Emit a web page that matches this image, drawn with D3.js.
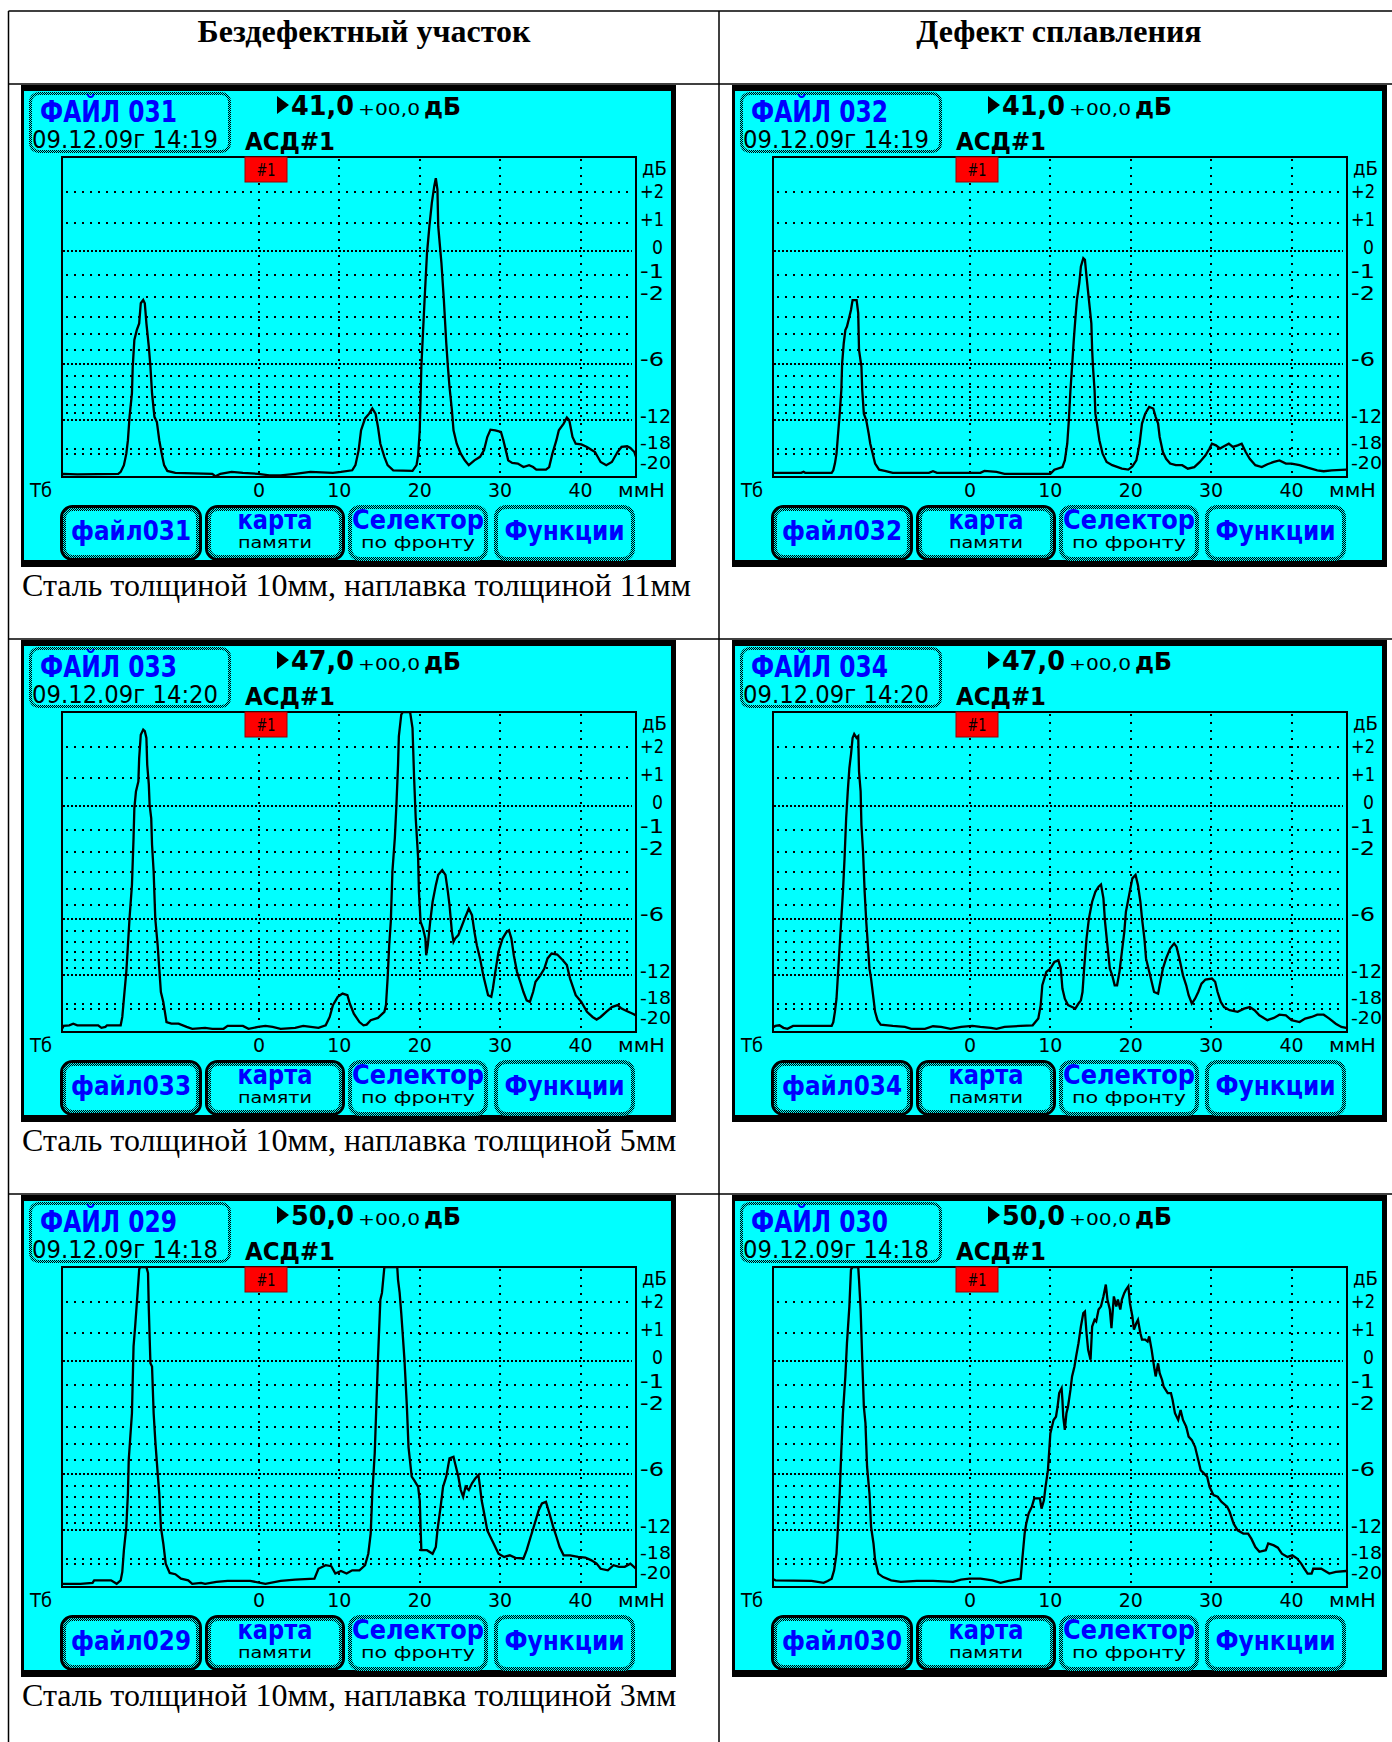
<!DOCTYPE html>
<html lang="ru">
<head>
<meta charset="utf-8">
<title>Бездефектный участок / Дефект сплавления</title>
<script src="https://cdn.jsdelivr.net/npm/d3@7"></script>
<style>
  body { margin: 0; background: #fff; }
  svg { display: block; }
  .dev { font-family: "DejaVu Sans", "Noto Sans", sans-serif; }
  .serif { font-family: "Liberation Serif", "Times New Roman", serif; }
</style>
</head>
<body>
<svg id="chart" width="1392" height="1742"></svg>
<script>
// ---- data ----
const headers = ["Бездефектный участок", "Дефект сплавления"];
const captions = [
  "Сталь толщиной 10мм, наплавка толщиной 11мм",
  "Сталь толщиной 10мм, наплавка толщиной 5мм",
  "Сталь толщиной 10мм, наплавка толщиной 3мм"
];
const fileNumbers = ["031", "032", "033", "034", "029", "030"];
const fileDates = ["09.12.09г 14:19", "09.12.09г 14:19", "09.12.09г 14:20",
                   "09.12.09г 14:20", "09.12.09г 14:18", "09.12.09г 14:18"];
const gains = ["41,0", "41,0", "47,0", "47,0", "50,0", "50,0"];
const gainOffset = "+00,0";
const channel = "АСД#1";
const gateLabel = "#1";
const mmTicks = [0, 10, 20, 30, 40];
const dbGrid = [2, 1, 0, -1, -2, -3, -4, -5, -6, -7, -8, -9, -10, -11, -12, -18, -20];
const dbDense = [0, -6, -12];
const dbLabelValues = [2, 1, 0, -1, -2, -6, -12, -18, -20];
const dbLabels = ["+2", "+1", "0", "-1", "-2", "-6", "-12", "-18", "-20"];
const zeroDbAmp = 70.7;           // % of screen height at 0 dB
const buttonMain = ["файл", "карта", "Селектор", "Функции"];
const buttonSub = ["", "памяти", "по фронту", ""];

// traces: [mm, amplitude % of screen height]
const trace031 = [[-24.6,0.5],[-24.3,1.0],[-22.6,0.8],[-17.5,1.0],[-17.2,1.6],[-16.8,3.7],[-16.5,7.3],[-16.3,11.5],[-16.1,18.8],[-15.8,26.1],[-15.7,34.5],[-15.5,42.8],[-15.2,45.9],[-14.9,48.0],[-14.7,54.3],[-14.4,55.3],[-14.2,54.3],[-14.0,48.0],[-13.7,40.7],[-13.5,34.5],[-13.3,26.1],[-13.0,18.8],[-12.7,17.2],[-12.4,11.5],[-12.1,7.3],[-11.8,3.7],[-11.4,1.9],[-10.4,1.3],[-5.8,1.0],[-5.4,0.2],[-4.8,1.0],[-3.4,1.6],[-2.0,1.3],[-0.1,1.0],[1.3,0.5],[2.7,0.5],[4.5,1.0],[6.4,1.6],[9.2,1.3],[10.2,1.6],[11.6,2.1],[12.0,3.7],[12.4,8.4],[12.7,14.6],[13.2,18.3],[13.7,19.8],[14.1,21.4],[14.5,19.8],[14.8,15.7],[15.1,10.4],[15.6,6.3],[16.0,3.7],[16.7,2.1],[19.1,1.9],[19.6,3.7],[19.8,6.8],[20.0,14.6],[20.2,34.5],[20.6,55.3],[20.9,69.9],[21.2,78.3],[21.5,85.6],[21.8,90.8],[22.0,93.4],[22.2,89.8],[22.3,78.3],[22.7,66.8],[23.0,55.3],[23.3,41.8],[23.5,34.5],[23.7,28.2],[24.0,20.9],[24.2,14.6],[24.6,10.4],[25.1,7.3],[25.6,5.2],[26.1,3.7],[26.8,5.2],[27.5,6.3],[28.0,8.4],[28.4,12.5],[28.8,14.8],[29.4,14.6],[30.1,14.1],[30.4,11.5],[30.7,8.4],[31.0,5.2],[31.5,4.4],[32.2,4.2],[32.9,3.1],[33.6,3.7],[34.1,3.1],[34.5,2.3],[35.7,2.3],[36.1,3.1],[36.5,7.3],[37.0,11.5],[37.3,14.6],[37.9,16.7],[38.3,18.6],[38.6,17.7],[39.0,12.5],[39.4,10.4],[40.1,10.2],[40.8,9.4],[41.8,7.8],[42.5,4.7],[43.2,3.7],[43.9,4.7],[44.6,7.8],[45.1,9.4],[45.8,9.6],[46.2,9.1],[46.7,7.8],[46.9,6.3]];

const trace032 = [[-24.6,1.3],[-21.0,1.3],[-20.7,1.6],[-20.5,1.3],[-17.2,1.3],[-17.0,2.1],[-16.8,4.2],[-16.6,7.3],[-16.4,13.6],[-16.2,19.8],[-16.0,27.1],[-15.9,35.5],[-15.7,41.8],[-15.5,45.9],[-15.3,47.0],[-15.0,50.1],[-14.8,52.2],[-14.6,55.3],[-14.1,55.3],[-13.9,51.2],[-13.8,39.7],[-13.5,34.5],[-13.4,27.1],[-13.2,19.8],[-12.9,17.7],[-12.6,13.6],[-12.4,10.4],[-12.1,7.3],[-11.8,4.2],[-11.3,2.3],[-10.6,1.9],[-9.6,1.3],[-5.1,1.3],[-4.6,1.8],[-4.1,1.3],[1.3,1.3],[1.8,1.9],[3.3,1.6],[4.3,1.0],[10.0,1.0],[10.5,2.3],[11.5,3.1],[11.8,5.2],[12.1,10.4],[12.3,17.7],[12.5,27.1],[12.7,34.5],[12.9,42.3],[13.1,49.1],[13.3,55.3],[13.6,60.6],[13.8,65.8],[14.1,68.4],[14.3,67.9],[14.5,62.6],[14.8,55.3],[15.1,48.0],[15.2,39.7],[15.3,34.5],[15.5,27.1],[15.6,19.8],[15.8,16.7],[16.1,11.5],[16.5,7.3],[17.0,4.7],[17.7,3.7],[18.9,2.6],[19.7,2.3],[20.2,3.3],[20.7,5.2],[21.1,10.4],[21.4,16.7],[21.8,19.8],[22.3,21.9],[22.8,21.4],[23.1,18.8],[23.4,16.7],[23.6,12.5],[24.0,7.8],[24.4,5.7],[24.9,4.2],[25.6,3.7],[26.4,3.7],[27.1,2.6],[27.9,3.1],[28.6,4.7],[29.3,6.8],[29.8,8.9],[30.1,10.4],[30.6,9.9],[31.1,8.9],[31.6,9.6],[32.2,10.4],[32.7,9.4],[33.3,9.9],[33.8,10.4],[34.3,7.8],[34.8,5.7],[35.5,3.7],[36.3,3.1],[37.0,4.0],[37.8,4.7],[38.5,5.2],[39.3,4.2],[40.0,4.2],[41.0,3.7],[42.0,2.9],[43.2,2.1],[44.0,1.8],[45.0,2.1],[46.8,2.3]];

const trace033 = [[-24.6,0.5],[-24.3,1.9],[-23.6,2.1],[-23.1,2.6],[-22.6,2.1],[-20.0,2.1],[-19.6,1.3],[-19.1,1.6],[-18.9,2.1],[-17.2,2.1],[-17.0,4.7],[-16.8,10.4],[-16.5,18.8],[-16.3,27.1],[-16.1,35.5],[-15.8,45.9],[-15.6,60.6],[-15.5,69.9],[-15.3,75.2],[-15.0,78.3],[-14.9,85.6],[-14.7,92.9],[-14.4,94.5],[-14.2,94.0],[-14.0,91.9],[-13.9,83.5],[-13.7,77.3],[-13.6,71.0],[-13.4,66.8],[-13.3,58.5],[-13.1,50.1],[-12.9,35.5],[-12.6,27.1],[-12.4,19.8],[-12.2,12.5],[-11.9,9.4],[-11.7,6.3],[-11.5,3.1],[-10.9,2.6],[-10.0,2.6],[-9.0,1.6],[-8.3,1.0],[-6.7,1.3],[-5.8,1.0],[-4.4,1.0],[-3.9,1.9],[-2.0,1.9],[-1.3,1.0],[-0.1,1.6],[0.8,1.9],[1.7,1.6],[2.7,1.0],[4.5,1.3],[5.5,1.9],[7.4,1.3],[8.3,2.1],[8.8,4.7],[9.2,8.4],[9.8,11.0],[10.4,12.0],[11.0,11.5],[11.3,8.9],[11.8,5.7],[12.5,3.1],[13.0,2.1],[13.4,2.3],[13.9,3.7],[14.8,4.4],[15.6,6.3],[15.8,8.4],[16.0,16.7],[16.2,27.1],[16.4,34.5],[16.6,50.1],[16.9,60.6],[17.1,71.0],[17.3,83.5],[17.4,92.4],[17.7,99.2],[17.9,100],[18.8,100],[19.1,95.0],[19.3,79.3],[19.5,66.8],[19.8,54.3],[19.9,43.8],[20.1,34.5],[20.4,32.4],[20.7,29.2],[20.8,24.0],[21.0,27.1],[21.3,34.5],[21.6,40.7],[22.0,45.9],[22.3,49.1],[22.8,50.6],[23.2,49.1],[23.5,43.8],[23.7,39.7],[24.0,31.3],[24.2,28.2],[24.4,29.2],[24.8,30.3],[25.2,32.9],[25.6,35.5],[26.1,38.6],[26.5,36.5],[26.8,31.3],[27.1,27.1],[27.5,23.0],[27.9,17.7],[28.2,14.6],[28.5,11.5],[28.9,11.0],[29.1,13.6],[29.4,18.8],[29.8,25.1],[30.3,29.2],[30.8,31.3],[31.1,31.8],[31.4,29.2],[31.7,24.0],[32.1,18.8],[32.5,15.7],[32.9,12.5],[33.3,9.9],[33.7,9.4],[34.1,12.5],[34.4,15.7],[35.0,17.7],[35.5,19.8],[35.9,23.0],[36.4,24.5],[37.1,24.2],[37.8,22.4],[38.3,20.9],[38.7,16.7],[39.4,11.5],[40.1,9.4],[40.8,6.3],[41.5,4.7],[42.0,3.9],[42.5,4.7],[43.2,6.3],[43.9,7.8],[44.6,8.4],[45.1,7.3],[45.8,6.5],[46.5,5.7],[46.9,5.2]];

const trace034 = [[-24.6,1.3],[-24.2,1.9],[-23.7,2.1],[-23.2,1.3],[-22.7,1.0],[-22.0,1.9],[-17.2,1.9],[-17.0,3.1],[-16.8,6.3],[-16.6,10.4],[-16.4,18.8],[-16.2,27.1],[-16.0,35.5],[-15.8,43.8],[-15.6,54.3],[-15.4,66.8],[-15.2,75.2],[-15.0,82.5],[-14.8,86.7],[-14.6,91.9],[-14.4,93.1],[-14.1,91.9],[-13.9,92.4],[-13.8,81.4],[-13.6,75.2],[-13.5,64.7],[-13.3,56.4],[-13.1,43.8],[-12.9,34.5],[-12.7,27.1],[-12.5,19.8],[-12.3,16.7],[-12.0,10.4],[-11.8,6.3],[-11.5,3.7],[-11.1,2.3],[-9.6,1.9],[-8.1,1.6],[-7.3,1.0],[-5.6,1.0],[-4.6,1.8],[-3.6,1.6],[-2.4,1.0],[-1.1,1.6],[0.3,1.9],[1.3,1.6],[2.6,1.3],[3.3,1.0],[4.3,1.6],[6.3,1.9],[7.8,2.1],[8.5,4.2],[8.8,8.4],[9.0,14.6],[9.5,18.8],[10.0,19.8],[10.5,21.9],[11.0,22.4],[11.3,19.8],[11.5,13.6],[11.8,10.4],[12.2,8.4],[12.7,7.8],[13.1,7.3],[13.5,8.9],[13.8,9.9],[14.0,12.5],[14.2,19.8],[14.5,29.2],[14.8,35.5],[15.2,40.7],[15.6,43.8],[16.0,45.4],[16.3,46.1],[16.6,41.8],[16.8,34.5],[17.1,27.1],[17.4,19.8],[17.7,17.7],[18.0,14.6],[18.3,14.6],[18.6,18.8],[18.9,25.1],[19.2,31.3],[19.4,37.6],[19.8,42.8],[20.2,48.0],[20.6,49.1],[20.9,45.9],[21.2,40.7],[21.4,35.5],[21.7,29.2],[21.9,23.0],[22.3,18.8],[22.6,15.7],[22.9,12.5],[23.4,12.0],[23.6,14.6],[24.0,19.8],[24.4,23.0],[24.9,26.1],[25.4,27.7],[25.7,26.6],[26.1,22.4],[26.5,17.7],[26.9,14.6],[27.2,11.5],[27.6,8.9],[28.0,10.4],[28.4,12.5],[28.8,15.1],[29.3,16.4],[30.1,16.7],[30.5,15.7],[30.8,12.5],[31.2,9.4],[31.6,7.8],[32.3,6.8],[33.3,6.3],[34.1,7.3],[34.8,7.8],[35.4,6.8],[36.0,5.2],[37.0,3.7],[37.8,4.4],[38.5,5.4],[39.3,5.2],[40.0,3.7],[41.0,3.1],[41.7,4.2],[42.5,4.7],[43.2,5.4],[44.0,5.4],[44.7,4.2],[45.5,2.6],[46.2,1.6],[46.8,1.3]];

const trace029 = [[-24.6,1.0],[-22.2,1.0],[-20.7,1.3],[-20.5,2.1],[-18.4,2.1],[-17.7,1.0],[-17.2,2.1],[-17.0,4.7],[-16.8,11.5],[-16.5,18.8],[-16.3,29.2],[-16.2,39.7],[-15.8,54.3],[-15.6,75.2],[-15.4,81.4],[-15.1,91.9],[-14.9,99.2],[-14.8,100],[-14.0,100],[-13.8,98.1],[-13.7,86.7],[-13.5,69.9],[-13.3,68.9],[-13.1,54.3],[-12.9,45.9],[-12.6,35.5],[-12.4,29.2],[-12.2,18.8],[-11.9,13.6],[-11.6,7.3],[-11.1,4.4],[-10.4,4.0],[-9.7,2.6],[-8.8,2.1],[-8.3,1.0],[-7.2,1.3],[-6.7,1.0],[-5.3,1.6],[-3.9,1.9],[-1.1,1.9],[0.8,1.0],[2.7,1.9],[4.5,2.3],[6.9,2.6],[7.4,5.7],[8.3,6.8],[9.0,6.5],[9.5,4.2],[10.2,5.0],[10.9,4.2],[11.6,5.2],[12.5,5.2],[13.2,6.8],[13.6,10.4],[13.9,16.7],[14.1,29.2],[14.4,41.8],[14.6,56.4],[14.8,71.0],[15.1,89.8],[15.3,91.9],[15.6,100],[17.2,100],[17.3,96.0],[17.5,91.9],[17.7,85.6],[17.9,78.3],[18.1,71.0],[18.4,56.4],[18.6,43.8],[19.0,34.5],[19.3,33.4],[19.8,31.3],[20.0,27.1],[20.1,18.8],[20.2,11.5],[20.9,11.5],[21.6,10.4],[22.0,12.5],[22.2,17.7],[22.6,25.1],[22.9,31.3],[23.3,34.5],[23.7,40.2],[24.2,40.7],[24.4,38.6],[24.8,34.5],[25.1,30.3],[25.4,28.2],[25.7,31.3],[26.1,30.3],[26.5,32.4],[26.9,33.9],[27.3,35.0],[27.5,31.3],[27.7,27.1],[28.1,21.9],[28.4,17.7],[28.9,15.1],[29.4,12.5],[29.8,10.4],[30.5,9.4],[31.2,9.9],[31.9,9.1],[32.9,8.9],[33.3,11.5],[33.8,15.7],[34.3,19.8],[34.8,24.0],[35.2,26.1],[35.7,26.6],[36.2,22.4],[36.6,18.8],[37.0,15.7],[37.4,12.5],[37.9,9.9],[38.7,9.9],[39.7,9.4],[40.6,9.2],[41.3,8.4],[42.0,7.3],[42.5,5.7],[43.4,5.2],[44.1,6.8],[44.8,6.3],[45.5,6.3],[46.2,7.3],[46.9,5.7]];

const trace030 = [[-24.6,2.6],[-24.2,2.1],[-19.7,1.9],[-18.2,1.3],[-17.7,1.9],[-17.2,2.6],[-16.9,5.2],[-16.6,10.4],[-16.4,19.8],[-16.2,29.2],[-16.0,42.8],[-15.8,54.3],[-15.5,65.8],[-15.3,76.2],[-15.0,87.7],[-14.8,99.2],[-14.6,100],[-13.9,100],[-13.8,96.0],[-13.6,86.7],[-13.4,71.0],[-13.2,56.4],[-13.0,51.2],[-12.8,37.6],[-12.5,29.2],[-12.3,18.8],[-12.0,13.6],[-11.8,8.4],[-11.4,4.2],[-10.8,3.1],[-9.8,2.1],[-8.6,1.6],[-6.6,1.9],[-4.6,1.9],[-2.1,1.6],[-1.1,2.3],[-0.1,2.6],[1.3,2.6],[2.8,2.1],[3.8,1.3],[4.8,1.9],[6.3,2.6],[6.5,8.4],[6.8,16.7],[7.0,19.8],[7.3,23.0],[7.7,25.1],[8.0,27.7],[8.7,27.7],[8.9,24.5],[9.2,27.1],[9.4,31.3],[9.7,36.5],[10.0,48.0],[10.2,50.1],[10.4,52.2],[10.7,53.2],[10.9,56.4],[11.1,60.6],[11.4,62.1],[11.5,58.5],[11.6,53.2],[11.8,49.1],[12.0,54.3],[12.2,56.4],[12.5,61.6],[12.7,65.8],[13.0,68.9],[13.2,72.0],[13.5,76.2],[13.8,81.4],[14.1,85.6],[14.3,86.1],[14.5,79.3],[14.7,74.1],[15.0,71.0],[15.2,81.4],[15.5,83.5],[15.7,83.0],[16.0,86.7],[16.3,87.7],[16.6,90.8],[16.9,94.5],[17.1,89.8],[17.4,86.7],[17.6,80.9],[17.9,90.8],[18.2,87.7],[18.4,89.8],[18.7,86.7],[18.9,89.8],[19.2,91.9],[19.4,92.9],[19.7,94.0],[19.9,88.7],[20.2,84.6],[20.4,80.4],[20.7,82.5],[20.9,83.5],[21.2,79.3],[21.4,77.3],[21.8,77.3],[22.1,76.7],[22.3,78.3],[22.6,74.1],[22.9,68.9],[23.1,65.8],[23.4,69.9],[23.6,66.8],[23.9,64.7],[24.1,62.6],[24.6,60.6],[25.0,60.6],[25.2,58.5],[25.5,54.3],[25.9,52.2],[26.2,55.3],[26.5,52.2],[26.9,50.1],[27.2,47.0],[27.6,45.9],[28.0,43.8],[28.4,39.7],[28.7,36.5],[29.1,35.5],[29.5,34.5],[29.8,31.3],[30.3,28.7],[30.8,28.2],[31.3,26.6],[32.0,25.1],[32.3,23.5],[32.8,19.8],[33.3,17.7],[34.0,16.7],[34.6,16.7],[35.0,15.1],[35.5,12.5],[36.0,11.0],[36.8,11.5],[37.1,13.6],[37.8,13.0],[38.3,12.3],[38.8,10.4],[39.5,9.4],[40.1,9.9],[40.7,8.9],[41.2,7.3],[41.6,5.7],[42.0,4.2],[42.5,4.2],[42.7,5.7],[43.7,5.7],[44.7,4.2],[45.5,4.7],[46.8,5.0]];

const traces = [trace031, trace032, trace033, trace034, trace029, trace030];

// ---- layout ----
const CYAN = "#00ffff", BLUE = "#0000ff", RED = "#ff0000";
const svg = d3.select("#chart");
const defs = svg.append("defs");

// checkered border used by the device's frames
const checker = defs.append("pattern").attr("id", "checker")
  .attr("width", 2).attr("height", 2).attr("patternUnits", "userSpaceOnUse");
checker.append("rect").attr("width", 2).attr("height", 2).attr("fill", CYAN);
checker.append("rect").attr("width", 1).attr("height", 1).attr("fill", "#000");
checker.append("rect").attr("x", 1).attr("y", 1).attr("width", 1).attr("height", 1).attr("fill", "#000");

defs.append("clipPath").attr("id", "plotclip")
  .append("rect").attr("x", 41).attr("y", 72).attr("width", 574).attr("height", 320);

// table lines
const table = svg.append("g").attr("stroke", "#000").attr("stroke-width", 1.5);
table.append("line").attr("x1", 8.5).attr("x2", 1392).attr("y1", 11).attr("y2", 11);
table.append("line").attr("x1", 8.5).attr("x2", 8.5).attr("y1", 11).attr("y2", 1742);
table.append("line").attr("x1", 719).attr("x2", 719).attr("y1", 11).attr("y2", 1742);
[84, 639, 1194].forEach(yy =>
  table.append("line").attr("x1", 8.5).attr("x2", 1392).attr("y1", yy).attr("y2", yy));

headers.forEach((h, c) => {
  svg.append("text").attr("class", "serif")
    .attr("x", c === 0 ? 364 : 1059).attr("y", 42)
    .attr("text-anchor", "middle").attr("font-size", 32).attr("font-weight", "bold")
    .text(h);
});

captions.forEach((t, r) => {
  svg.append("text").attr("class", "serif")
    .attr("x", 22).attr("y", 596 + r * 555)
    .attr("font-size", 32).text(t);
});

// shared scales (panel-local coordinates)
const x = d3.scaleLinear().domain([-24.5, 46.9]).range([41, 615]);
const y = d3.scaleLinear().domain([0, 100]).range([392, 72]);
const ampOf = db => zeroDbAmp * Math.pow(10, db / 20);
const line = d3.line().x(d => x(d[0])).y(d => y(d[1]));

function devText(g, str, tx, ty, size, weight, fill, len, anchor) {
  const t = g.append("text").attr("class", "dev")
    .attr("x", tx).attr("y", ty)
    .attr("font-size", size).attr("font-weight", weight)
    .attr("fill", fill).attr("text-anchor", anchor || "start")
    .text(str);
  if (len) t.attr("textLength", len).attr("lengthAdjust", "spacingAndGlyphs");
  return t;
}

function drawPanel(g, i) {
  // frame
  g.append("rect").attr("width", 655).attr("height", 482).attr("fill", "#000");
  g.append("rect").attr("x", 3).attr("y", 6).attr("width", 647).attr("height", 469).attr("fill", CYAN);

  // file box
  g.append("rect").attr("x", 9.5).attr("y", 8.5).attr("width", 199).attr("height", 58).attr("rx", 8)
    .attr("fill", CYAN).attr("stroke", "url(#checker)").attr("stroke-width", 3);
  devText(g, "ФАЙЛ " + fileNumbers[i], 19, 37, 30, "bold", BLUE, 137);
  devText(g, fileDates[i], 11, 63, 24, "normal", "#000", 186);

  // gain
  g.append("path").attr("d", "M256,11 L268,20 L256,29 Z").attr("fill", "#000");
  devText(g, gains[i], 270, 30, 27, "bold", "#000", 63);
  devText(g, gainOffset, 337, 30, 15, "normal", "#000", 62);
  devText(g, "дБ", 403, 30, 24, "bold", "#000", 37);
  devText(g, channel, 224, 65, 25, "bold", "#000", 90);

  // grid
  const grid = g.append("g").attr("stroke", "#000").attr("stroke-width", 2).attr("shape-rendering", "crispEdges");
  dbGrid.forEach(db => {
    const yy = Math.round(y(ampOf(db)));
    const dense = dbDense.includes(db);
    grid.append("line")
      .attr("x1", x.range()[0] + (dense ? 1 : 4)).attr("x2", x.range()[1] - 4)
      .attr("y1", yy).attr("y2", yy)
      .attr("stroke-dasharray", dense ? "2,2" : "2,6");
  });
  mmTicks.forEach(mm => {
    const xx = Math.round(x(mm));
    grid.append("line").attr("x1", xx).attr("x2", xx)
      .attr("y1", y.range()[1] + 2).attr("y2", y.range()[0])
      .attr("stroke-dasharray", "2,6");
  });

  // plot frame
  g.append("rect").attr("x", 41).attr("y", 72).attr("width", 574).attr("height", 320)
    .attr("fill", "none").attr("stroke", "#000").attr("stroke-width", 2);

  // gate marker
  g.append("rect").attr("x", 224).attr("y", 72).attr("width", 42).attr("height", 25)
    .attr("fill", RED).attr("stroke", "#900").attr("stroke-width", 1);
  devText(g, gateLabel, 245, 91, 18, "normal", "#000", 19, "middle");

  // trace
  g.append("path").datum(traces[i])
    .attr("clip-path", "url(#plotclip)")
    .attr("fill", "none").attr("stroke", "#000").attr("stroke-width", 2.3)
    .attr("stroke-linejoin", "miter")
    .attr("d", line);

  // right dB labels
  devText(g, "дБ", 621, 90, 19, "normal", "#000", 25);
  dbLabelValues.forEach((db, k) => {
    const lab = dbLabels[k];
    const nudge = lab === "-20" ? 9 : (lab === "+2" ? -1 : (lab === "-18" ? -6 : -4));
    const fs = (lab === "-18" || lab === "-20") ? 17 : 19;
    devText(g, lab, lab === "0" ? 631 : 619, y(ampOf(db)) + nudge + fs * 0.36, fs, "normal", "#000",
      lab.length === 3 ? 31 : (lab.length === 2 ? 24 : 11));
  });

  // distance axis
  mmTicks.forEach(mm => devText(g, String(mm), x(mm), 412, 19, "normal", "#000", null, "middle"));
  devText(g, "Тб", 9, 412, 19, "normal", "#000", 22);
  devText(g, "ммН", 597, 412, 19, "normal", "#000", 47);

  // soft keys
  const keys = [[39, 181], [184, 324], [327, 467], [473, 614]];
  keys.forEach((k, j) => {
    const bw = k[1] - k[0];
    if (j < 2) {
      g.append("rect").attr("x", k[0] + 1.5).attr("y", 421.5).attr("width", bw - 3).attr("height", 53).attr("rx", 11)
        .attr("fill", CYAN).attr("stroke", "#000").attr("stroke-width", 3);
      g.append("rect").attr("x", k[0] + 4.5).attr("y", 424.5).attr("width", bw - 9).attr("height", 47).attr("rx", 8)
        .attr("fill", "none").attr("stroke", "url(#checker)").attr("stroke-width", 3);
    } else {
      g.append("rect").attr("x", k[0] + 2).attr("y", 422).attr("width", bw - 4).attr("height", 52).attr("rx", 10)
        .attr("fill", CYAN).attr("stroke", "url(#checker)").attr("stroke-width", 4);
    }
    const cx = (k[0] + k[1]) / 2;
    if (j === 0) {
      devText(g, buttonMain[0] + fileNumbers[i], cx, 455, 27, "bold", BLUE, 120, "middle");
    } else if (j === 3) {
      devText(g, buttonMain[3], cx, 455, 27, "bold", BLUE, 120, "middle");
    } else {
      devText(g, buttonMain[j], cx, 444, 26, "bold", BLUE, j === 1 ? 75 : 132, "middle");
      devText(g, buttonSub[j], cx, 463, 16, "normal", "#000", j === 1 ? 74 : 114, "middle");
    }
  });
}

traces.forEach((t, i) => {
  const col = i % 2, row = Math.floor(i / 2);
  const g = svg.append("g").attr("transform", `translate(${21 + col * 711},${85 + row * 555})`);
  drawPanel(g, i);
});
</script>
</body>
</html>
